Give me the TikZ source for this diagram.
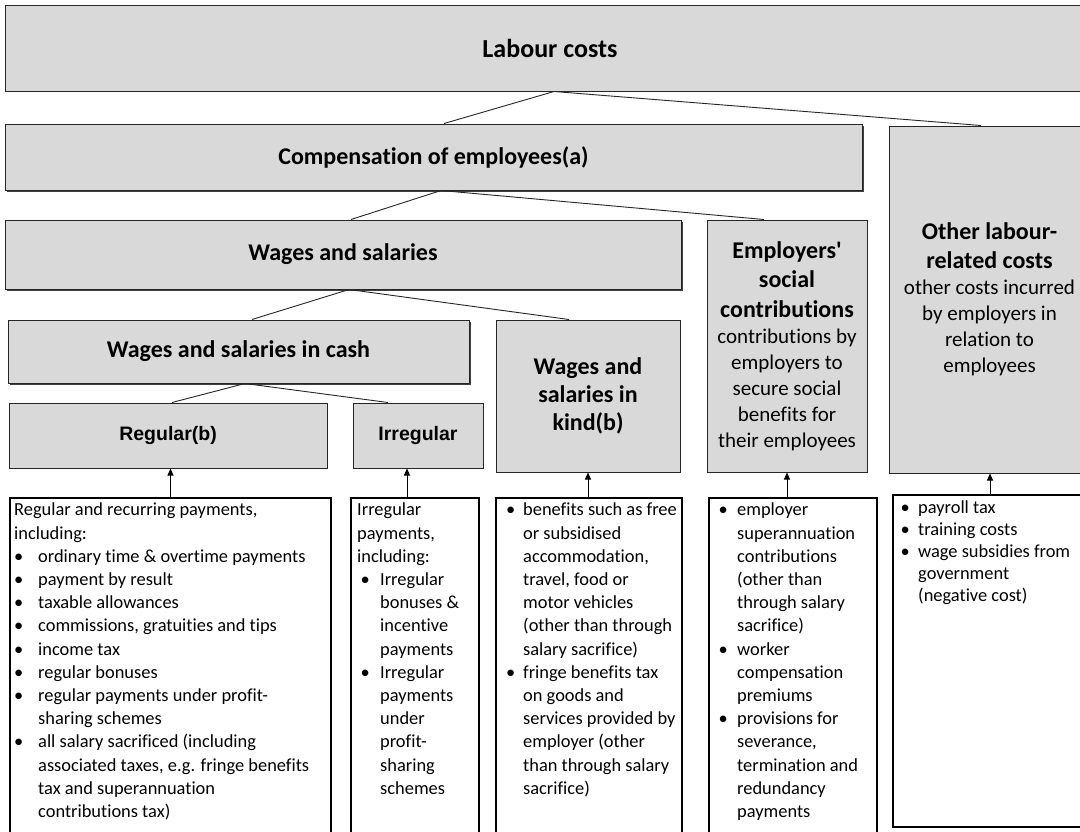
\documentclass[tikz,border=0pt]{standalone}
\usepackage{fontspec}
\setmainfont{Carlito}[Ligatures={TeX,NoCommon}]
\newfontfamily\arialfont{Liberation Sans}
\usetikzlibrary{arrows.meta,shadows,calc}
\definecolor{boxgray}{RGB}{217,217,217}
\newcommand\bulitem[2]{\makebox[#2][l]{\hspace*{#1}\textbullet}}
\newcommand\contln[1]{\hspace*{#1}}
\begin{document}
\begin{tikzpicture}[x=1pt,y=-1pt,
  hbox/.style={draw=black!85, line width=1pt, fill=boxgray, inner sep=0pt, align=center, rectangle},
  shad/.style={drop shadow={shadow xshift=2pt, shadow yshift=-2pt, fill=black!75, opacity=1}},
  tbox/.style={draw=black, line width=1.6pt, fill=white, inner sep=0pt, rectangle},
  body/.style={anchor=north west, inner sep=0pt, align=flush left, text width=500pt, font=\fontsize{18.4}{23.2}\selectfont},
  link/.style={draw=black!85, line width=0.9pt},
  arr/.style={draw=black, line width=0.9pt, -{Triangle[length=7pt,width=6pt]}},
  hfont/.style={font=\bfseries\fontsize{24}{29.3}\selectfont},
  afont/.style={font=\arialfont\bfseries\fontsize{19.5}{23}\selectfont},
  tall/.style={font=\fontsize{21}{26}\selectfont, align=flush center}
]
\useasboundingbox (0,0) rectangle (1080,831);
\fill[white] (0,0) rectangle (1080,831);
\clip (0,0) rectangle (1080,831);

% header boxes
\node[hbox, minimum width=1090pt, minimum height=86pt, font=\bfseries\fontsize{26}{31}\selectfont] (labour) at (550,48) {Labour costs};
\node[hbox, shad, minimum width=857pt, minimum height=66pt, hfont] (comp) at (433.5,157) {Compensation of employees(a)};
\node[hbox, tall, minimum width=201pt, minimum height=347pt, text width=190pt] (other) at (989.5,299.5)
  {{\bfseries\fontsize{24}{29.5}\selectfont Other labour-\\related costs\par}\fontsize{21}{26}\selectfont other costs incurred\\by employers in\\relation to\\employees\par};
\node[hbox, shad, minimum width=676pt, minimum height=69pt, hfont] (ws) at (343,254.5) {Wages and salaries};
\node[hbox, tall, minimum width=160pt, minimum height=252pt, text width=156pt] (emp) at (787,346)
  {{\bfseries\fontsize{24}{29.5}\selectfont Employers\textquotesingle\\social\\contributions\par}\fontsize{21}{26}\selectfont contributions by\\employers to\\secure social\\benefits for\\their employees\par};
\node[hbox, shad, minimum width=461pt, minimum height=63pt, hfont] (cash) at (238.5,351.5) {Wages and salaries in cash};
\node[hbox, minimum width=184pt, minimum height=152pt, font=\bfseries\fontsize{24}{28}\selectfont] (kind) at (588,396) {Wages and\\salaries in\\kind(b)};
\node[hbox, minimum width=318pt, minimum height=65pt, afont] (reg) at (168,435.5) {Regular(b)};
\node[hbox, minimum width=130pt, minimum height=65pt, afont] (irr) at (418,435.5) {Irregular};

% text boxes
\node[tbox, minimum width=321pt, minimum height=352pt] (regt) at (170.5,674) {};
\node[tbox, minimum width=128pt, minimum height=352pt] (irrt) at (415,674) {};
\node[tbox, minimum width=186pt, minimum height=352pt] (kindt) at (589,674) {};
\node[tbox, minimum width=168pt, minimum height=352pt] (empt) at (793,674) {};
\node[tbox, minimum width=197pt, minimum height=332pt] (othert) at (991.5,661) {};

\node[body] (regtx) at (14,503) {Regular and recurring payments,\\
including:\\
\bulitem{0pt}{24pt}ordinary time \& overtime payments\\
\bulitem{0pt}{24pt}payment by result\\
\bulitem{0pt}{24pt}taxable allowances\\
\bulitem{0pt}{24pt}commissions, gratuities and tips\\
\bulitem{0pt}{24pt}income tax\\
\bulitem{0pt}{24pt}regular bonuses\\
\bulitem{0pt}{24pt}regular payments under profit-\\
\contln{24pt}sharing schemes\\
\bulitem{0pt}{24pt}all salary sacrificed (including\\
\contln{24pt}associated taxes, e.g. fringe benefits\\
\contln{24pt}tax and superannuation\\
\contln{24pt}contributions tax)};

\node[body] (irrtx) at (357,503) {Irregular\\
payments,\\
including:\\
\bulitem{3.5pt}{23pt}Irregular\\
\contln{23pt}bonuses \&\\
\contln{23pt}incentive\\
\contln{23pt}payments\\
\bulitem{3.5pt}{23pt}Irregular\\
\contln{23pt}payments\\
\contln{23pt}under\\
\contln{23pt}profit-\\
\contln{23pt}sharing\\
\contln{23pt}schemes};

\node[body] (kindtx) at (506,503) {\bulitem{0pt}{17pt}benefits such as free\\
\contln{17pt}or subsidised\\
\contln{17pt}accommodation,\\
\contln{17pt}travel, food or\\
\contln{17pt}motor vehicles\\
\contln{17pt}(other than through\\
\contln{17pt}salary sacrifice)\\
\bulitem{0pt}{17pt}fringe benefits tax\\
\contln{17pt}on goods and\\
\contln{17pt}services provided by\\
\contln{17pt}employer (other\\
\contln{17pt}than through salary\\
\contln{17pt}sacrifice)};

\node[body] (emptx) at (718.5,503) {\bulitem{0pt}{18.5pt}employer\\
\contln{18.5pt}superannuation\\
\contln{18.5pt}contributions\\
\contln{18.5pt}(other than\\
\contln{18.5pt}through salary\\
\contln{18.5pt}sacrifice)\\
\bulitem{0pt}{18.5pt}worker\\
\contln{18.5pt}compensation\\
\contln{18.5pt}premiums\\
\bulitem{0pt}{18.5pt}provisions for\\
\contln{18.5pt}severance,\\
\contln{18.5pt}termination and\\
\contln{18.5pt}redundancy\\
\contln{18.5pt}payments};

\node[body, font=\fontsize{18.4}{21.8}\selectfont] (othertx) at (900.5,501) {\bulitem{0pt}{17.5pt}payroll tax\\
\bulitem{0pt}{17.5pt}training costs\\
\bulitem{0pt}{17.5pt}wage subsidies from\\
\contln{17.5pt}government\\
\contln{17.5pt}(negative cost)};

% tree links
\draw[link] ([xshift=4pt]labour.south) -- ([xshift=10.5pt]comp.north);
\draw[link] ([xshift=4pt]labour.south) -- ([xshift=-8.5pt]other.north);
\draw[link] ([xshift=7.5pt]comp.south) -- ([xshift=8pt]ws.north);
\draw[link] ([xshift=7.5pt]comp.south) -- ([xshift=-23pt]emp.north);
\draw[link] ([xshift=6pt]ws.south) -- ([xshift=13.5pt]cash.north);
\draw[link] ([xshift=6pt]ws.south) -- ([xshift=-19pt]kind.north);
\draw[link] ([xshift=6.5pt]cash.south) -- ([xshift=4pt]reg.north);
\draw[link] ([xshift=6.5pt]cash.south) -- ([xshift=-30pt]irr.north);

% arrows
\draw[arr] (regt.north) -- (regt.north |- reg.south);
\draw[arr] ([xshift=-8pt]irrt.north) -- ([xshift=-8pt]irrt.north |- irr.south);
\draw[arr] ([xshift=-1pt]kindt.north) -- ([xshift=-1pt]kindt.north |- kind.south);
\draw[arr] ([xshift=-6pt]empt.north) -- ([xshift=-6pt]empt.north |- emp.south);
\draw[arr] ([xshift=-1.5pt]othert.north) -- ([xshift=-1.5pt]othert.north |- other.south);
\end{tikzpicture}
\end{document}
